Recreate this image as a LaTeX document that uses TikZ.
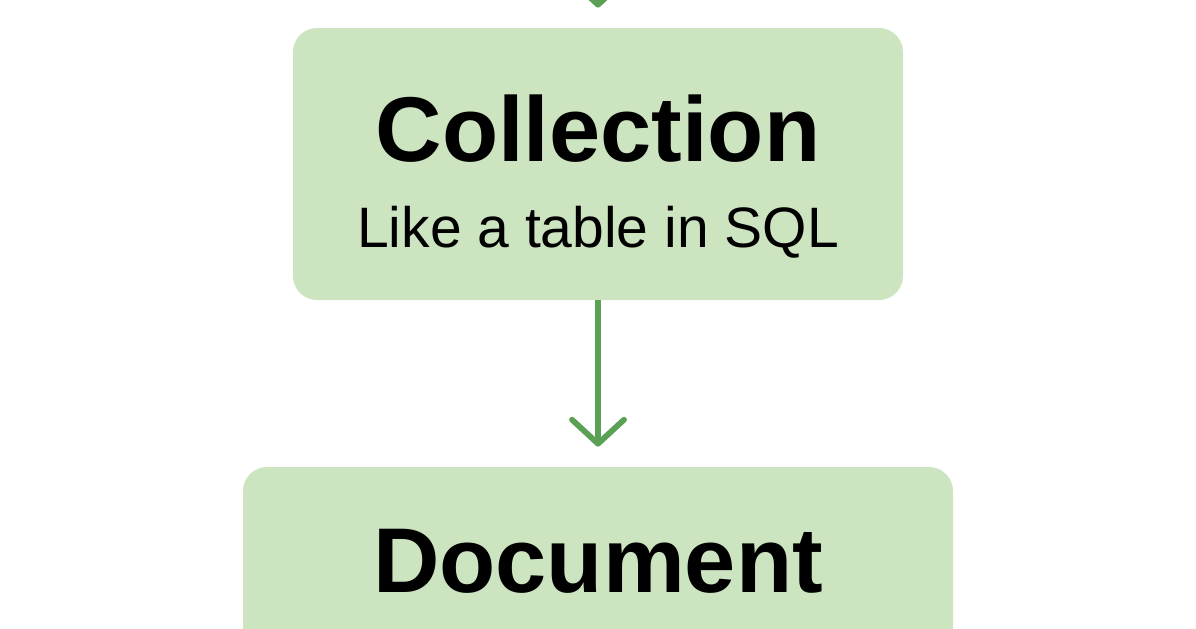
\documentclass[tikz,border=0pt]{standalone}
\usepackage{fontspec}
\setmainfont{Liberation Sans}
\usepackage{tikz}
\usetikzlibrary{positioning,arrows.meta}
\definecolor{boxColor}{HTML}{CCE4C0}
\definecolor{arrowColor}{HTML}{5AA155}
\tikzstyle{pixelGrid} = [x = 0.5pt, y = -0.5pt]
\tikzstyle{boxStyle} = [fill=boxColor, rounded corners = 12pt, inner sep = 0pt]
\tikzstyle{titleText} = [font=\fontsize{46}{50}\selectfont\bfseries, anchor=base, inner sep=0pt]
\tikzstyle{subText} = [font=\fontsize{28.5}{32}\selectfont, anchor=base, inner sep=0pt]
\tikzstyle{flowArrow} = [color=arrowColor, line width=2.9pt, -{Straight Barb[length=12pt, width=26pt, round]}, shorten >= 10pt]

\begin{document}
\begin{tikzpicture}[pixelGrid]
  \useasboundingbox (0,0) rectangle (1196,628);
  \clip (0,0) rectangle (1196,628);
  % boxes
  \node [boxStyle, minimum width=305pt, minimum height=136pt] (collection) at (598,164) {};
  \node [boxStyle, minimum width=355pt, minimum height=150pt] (document) at (598,617) {};
  % texts
  \node [titleText] (collectionTitle) at (598,161) {Collection};
  \node [subText] (collectionSub) at (598,247) {Like a table in SQL};
  \node [titleText] (documentTitle) at (598,592) {Document};
  % arrows
  \coordinate (above) at (598,-80);
  \draw [flowArrow] (above) -- (collection.north);
  \draw [flowArrow] (collection.south) -- (document.north);
\end{tikzpicture}
\end{document}
